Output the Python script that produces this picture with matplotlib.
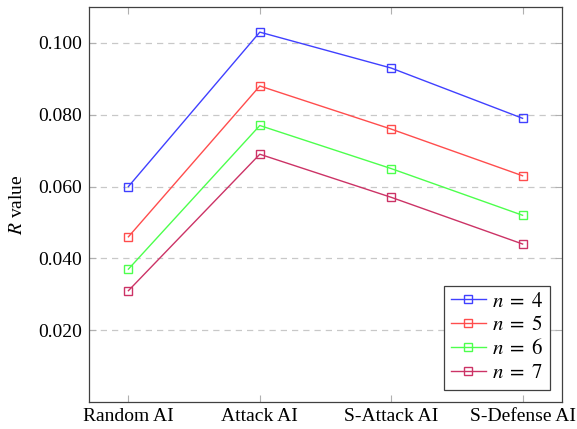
import numpy as np
import matplotlib
matplotlib.use('agg')
import matplotlib.pyplot as plt

# R values per opponent type, one series per board size n
categories = ["Random AI", "Attack AI", "S-Attack AI", "S-Defense AI"]
r_n4 = [0.060, 0.103, 0.093, 0.079]
r_n5 = [0.046, 0.088, 0.076, 0.063]
r_n6 = [0.037, 0.077, 0.065, 0.052]
r_n7 = [0.031, 0.069, 0.057, 0.044]
y_ticks = [0.020, 0.040, 0.060, 0.080, 0.100]

plt.rcParams['font.family'] = ['Liberation Serif', 'DejaVu Serif']
plt.rcParams['mathtext.fontset'] = 'stix'

fig = plt.figure(figsize=(5.77, 4.29), dpi=100)
ax = fig.add_axes((89 / 577, 27 / 429, 473 / 577, 395 / 429))

x = np.arange(len(categories))
series = [(r_n4, (0.25, 0.25, 1.0), r"$n\;=\;4$"),
          (r_n5, (1.0, 0.3, 0.3), r"$n\;=\;5$"),
          (r_n6, (0.3, 1.0, 0.3), r"$n\;=\;6$"),
          (r_n7, (0.8, 0.2, 0.4), r"$n\;=\;7$")]
for vals, col, lab in series:
    ax.plot(x, vals, color=col, lw=1.0, marker='s', markersize=6,
            markerfacecolor='none', markeredgecolor=col, markeredgewidth=1.0,
            label=lab)

ax.set_xlim(-0.3, 3.3)
ax.set_ylim(0, 0.11)
ax.set_xticks(x)
ax.set_xticklabels(categories)
ax.set_yticks(y_ticks)
ax.set_yticklabels(["%.3f" % v for v in y_ticks])
ax.tick_params(direction='in', length=5, color='#b0b0b0', labelsize=14,
               top=True, right=True, pad=5)
ax.tick_params(axis='x', pad=4)
ax.grid(True, axis='y', linestyle=(0, (5, 4)), color='#c8c8c8', lw=0.9)
for s in ax.spines.values():
    s.set_color('#404040')
    s.set_linewidth(0.9)

ax.set_ylabel("$R$ value", fontsize=14, labelpad=9)

leg = ax.legend(loc='lower right', fontsize=15, fancybox=False,
                edgecolor='#404040', framealpha=1, handlelength=1.7,
                handletextpad=0.3, borderpad=0.3, labelspacing=0.2,
                borderaxespad=0.6)
leg.get_frame().set_linewidth(0.9)

plt.savefig("out.png", dpi=100)
